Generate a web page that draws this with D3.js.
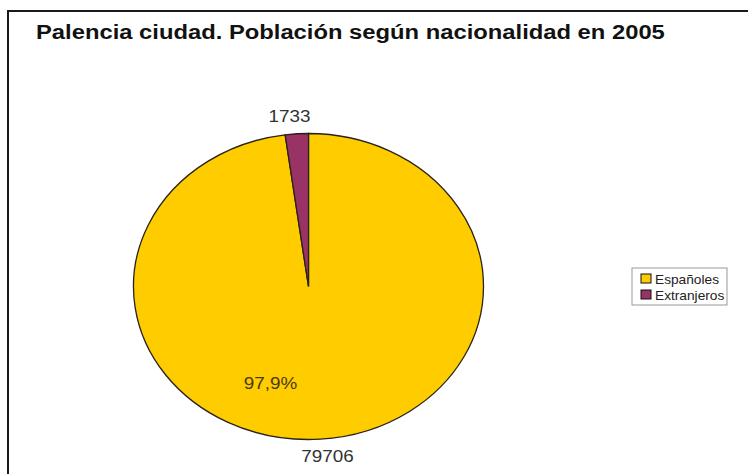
<!DOCTYPE html>
<html>
<head>
<meta charset="utf-8">
<script src="https://cdn.jsdelivr.net/npm/d3@7"></script>
<style>
  html, body { margin: 0; padding: 0; background: #fff; }
  svg { display: block; font-family: "Liberation Sans", Arial, sans-serif; }
</style>
</head>
<body>
<svg id="chart" width="748" height="474"></svg>
<script>
// Población de Palencia ciudad por nacionalidad (2005)
const categories = ["Españoles", "Extranjeros"];
const values = [79706, 1733];
const colors = ["#FFCC00", "#993366"];
const title = "Palencia ciudad. Población según nacionalidad en 2005";

const svg = d3.select("#chart");

// The whole drawing is widened horizontally by this factor
const cx = 308.5, cy = 286.5, ry = 153, rx = 175;
const sx = rx / ry;

function stretchedText(parent, x, y) {
  return parent.append("text")
    .attr("transform", `translate(${x},${y}) scale(${sx},1)`);
}

// Chart frame
svg.append("rect")
  .attr("x", 8).attr("y", 11)
  .attr("width", 760).attr("height", 480)
  .attr("fill", "#fff")
  .attr("stroke", "#1a1a1a")
  .attr("stroke-width", 2);

stretchedText(svg, 36, 39)
  .attr("font-size", 20.8)
  .attr("font-weight", "bold")
  .attr("fill", "#111")
  .text(title);

// Pie (drawn as a circle, stretched horizontally into an ellipse)
const pie = d3.pie().sort(null).value(d => d);
const arcs = pie(values);
const arc = d3.arc().innerRadius(0).outerRadius(ry);

const g = svg.append("g")
  .attr("transform", `translate(${cx},${cy}) scale(${sx},1)`);

g.selectAll("path")
  .data(arcs)
  .join("path")
  .attr("d", arc)
  .attr("fill", (d, i) => colors[i])
  .attr("stroke", "#2a2218")
  .attr("stroke-width", 1.3)
  .attr("vector-effect", "non-scaling-stroke");

// Outside value labels at each slice's mid angle
const total = d3.sum(values);
const labelR = ry + 17.5;
function polar(angle, r) {
  return [cx + Math.sin(angle) * r * sx, cy - Math.cos(angle) * r];
}

arcs.forEach((d, i) => {
  const mid = (d.startAngle + d.endAngle) / 2;
  const [x, y] = polar(mid, labelR);
  stretchedText(svg, x + Math.sign(Math.sin(mid)) * 6, y)
    .attr("text-anchor", "middle")
    .attr("dominant-baseline", "central")
    .attr("font-size", 16.5)
    .attr("fill", "#333")
    .text(values[i]);
});

// Percentage label inside the large slice
const pct = d3.format(".1f")(values[0] / total * 100).replace(".", ",") + "%";
const [px, py] = polar(199 * Math.PI / 180, 102);
stretchedText(svg, px, py)
  .attr("text-anchor", "middle")
  .attr("dominant-baseline", "central")
  .attr("font-size", 16.5)
  .attr("fill", "#4a3a10")
  .text(pct);

// Legend
const lg = svg.append("g").attr("transform", "translate(632,268)");
lg.append("rect")
  .attr("width", 95).attr("height", 37)
  .attr("fill", "#fff")
  .attr("stroke", "#999")
  .attr("stroke-width", 1);

const item = lg.selectAll("g.item")
  .data(categories)
  .join("g")
  .attr("class", "item")
  .attr("transform", (d, i) => `translate(9,${6 + i * 16})`);

item.append("rect")
  .attr("width", 10).attr("height", 9)
  .attr("fill", (d, i) => colors[i])
  .attr("stroke", "#111")
  .attr("stroke-width", 1);

item.append("text")
  .attr("transform", `translate(14,9.5) scale(${sx},1)`)
  .attr("font-size", 12)
  .attr("fill", "#222")
  .text(d => d);
</script>
</body>
</html>
